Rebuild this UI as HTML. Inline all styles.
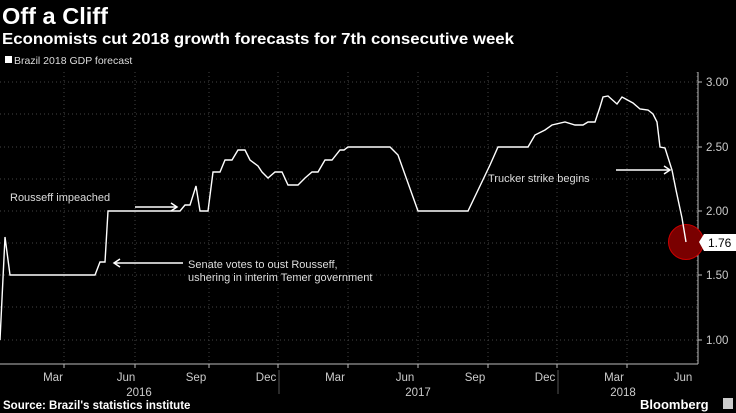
<!DOCTYPE html><html><head><style>
body{margin:0;background:#000;width:736px;height:413px;overflow:hidden;font-family:"Liberation Sans",sans-serif;color:#fff}
</style></head><body>
<svg width="736" height="413" style="position:absolute;left:0;top:0">
<text x="2" y="24" font-size="23" font-weight="bold" fill="#fff" textLength="106" lengthAdjust="spacingAndGlyphs">Off a Cliff</text>
<text x="2" y="44" font-size="16" font-weight="bold" fill="#fff" textLength="512" lengthAdjust="spacingAndGlyphs">Economists cut 2018 growth forecasts for 7th consecutive week</text>
<rect x="5" y="56" width="7" height="7" fill="#fff"/>
<text x="14" y="64" font-size="10.5" fill="#ddd">Brazil 2018 GDP forecast</text>
<g stroke="#444" stroke-dasharray="1,3" stroke-width="1">
<line x1="0" y1="82" x2="697" y2="82"/><line x1="0" y1="114" x2="697" y2="114"/><line x1="0" y1="147" x2="697" y2="147"/><line x1="0" y1="179" x2="697" y2="179"/><line x1="0" y1="211" x2="697" y2="211"/><line x1="0" y1="243" x2="697" y2="243"/><line x1="0" y1="275" x2="697" y2="275"/><line x1="0" y1="307" x2="697" y2="307"/><line x1="0" y1="340" x2="697" y2="340"/>
<line x1="64" y1="72" x2="64" y2="364"/><line x1="135" y1="72" x2="135" y2="364"/><line x1="209" y1="72" x2="209" y2="364"/><line x1="278" y1="72" x2="278" y2="364"/><line x1="348" y1="72" x2="348" y2="364"/><line x1="418" y1="72" x2="418" y2="364"/><line x1="488" y1="72" x2="488" y2="364"/><line x1="557" y1="72" x2="557" y2="364"/><line x1="627" y1="72" x2="627" y2="364"/><line x1="697" y1="72" x2="697" y2="364"/>
</g>
<line x1="0" y1="364" x2="698" y2="364" stroke="#bbb"/>
<line x1="698" y1="72" x2="698" y2="364" stroke="#bbb"/>
<g stroke="#bbb"><line x1="64" y1="364" x2="64" y2="368"/><line x1="135" y1="364" x2="135" y2="368"/><line x1="209" y1="364" x2="209" y2="368"/><line x1="278" y1="364" x2="278" y2="368"/><line x1="348" y1="364" x2="348" y2="368"/><line x1="418" y1="364" x2="418" y2="368"/><line x1="488" y1="364" x2="488" y2="368"/><line x1="557" y1="364" x2="557" y2="368"/><line x1="627" y1="364" x2="627" y2="368"/>
<line x1="698" y1="82" x2="702" y2="82"/><line x1="698" y1="147" x2="702" y2="147"/><line x1="698" y1="211" x2="702" y2="211"/><line x1="698" y1="275" x2="702" y2="275"/><line x1="698" y1="340" x2="702" y2="340"/>
<line x1="279" y1="370" x2="279" y2="394" stroke="#555"/><line x1="558" y1="370" x2="558" y2="394" stroke="#555"/></g>
<g font-size="11.5" fill="#ccc">
<text x="706" y="86">3.00</text><text x="706" y="151">2.50</text><text x="706" y="215">2.00</text><text x="706" y="279">1.50</text><text x="706" y="344">1.00</text>
</g>
<g font-size="11.5" fill="#ccc" text-anchor="middle">
<text x="53" y="381">Mar</text><text x="126" y="381">Jun</text><text x="196" y="381">Sep</text><text x="266" y="381">Dec</text><text x="335" y="381">Mar</text><text x="405" y="381">Jun</text><text x="475" y="381">Sep</text><text x="545" y="381">Dec</text><text x="614" y="381">Mar</text><text x="683" y="381">Jun</text>
<text x="139" y="396">2016</text><text x="418" y="396">2017</text><text x="623" y="396">2018</text>
</g>
<text x="3" y="409" font-size="11.5" font-weight="bold" fill="#fff">Source: Brazil's statistics institute</text>
<text x="640" y="409" font-size="13" font-weight="bold" fill="#fff">Bloomberg</text>
<rect x="723" y="398" width="10" height="11" fill="#ccc"/>
<circle cx="686" cy="242" r="17.5" fill="#7a0000" stroke="#c00" stroke-width="1"/>
<polyline fill="none" stroke="#fff" stroke-width="1.4" points="0,340 5,237 10,275 95,275 100,262 105,262 108,211 180,211 185,205 190,205 196,186 200,211 208,211 213,172 220,172 225,160 232,160 238,150 245,150 250,160 258,166 262,172 268,178 275,172 282,172 288,185 298,185 305,178 312,172 318,172 325,160 332,160 340,150 344,150 348,147 390,147 398,155 418,211 468,211 490,165 498,147 528,147 535,135 545,130 552,125 565,122 575,125 583,125 588,122 595,122 600,107 603,97 608,96 617,104 622,97 633,103 640,109 648,110 653,114 657,122 660,147 665,148 672,170 676,190 682,218 686,242"/>
<polygon points="699,242 704,234 736,234 736,251 704,251" fill="#fff"/>
<text x="708" y="247" font-size="12" fill="#000">1.76</text>
<g stroke="#fff" stroke-width="1.5" fill="none">
<line x1="135" y1="207" x2="177" y2="207"/><polyline points="171,203 177,207 171,211"/>
<line x1="114" y1="263" x2="183" y2="263"/><polyline points="120,259 114,263 120,267"/>
<line x1="616" y1="170" x2="670" y2="170"/><polyline points="664,166 670,170 664,174"/>
</g>
<g font-size="11" fill="#ddd">
<text x="10" y="201">Rousseff impeached</text>
<text x="188" y="268">Senate votes to oust Rousseff,</text>
<text x="188" y="281">ushering in interim Temer government</text>
<text x="488" y="182">Trucker strike begins</text>
</g>
</svg>
</body></html>
